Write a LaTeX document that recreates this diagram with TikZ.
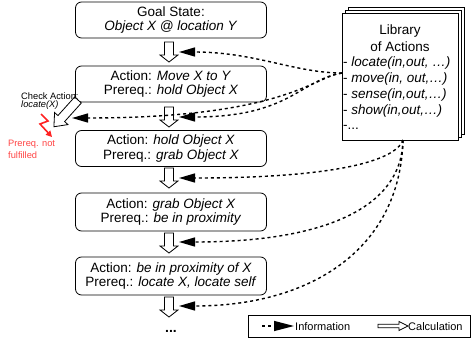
\documentclass[tikz,border=0pt]{standalone}
\usepackage{fontspec}
\setmainfont{Liberation Sans}
\usetikzlibrary{arrows.meta}
\begin{document}
\begin{tikzpicture}[x=1pt,y=-1pt,
  box/.style={draw, rounded corners=6pt, line width=0.8pt, minimum width=191pt, minimum height=36pt, align=center, font=\fontsize{13.5}{14.5}\selectfont, inner sep=0pt},
  info/.style={line width=1.4pt, dash pattern=on 3pt off 3pt, -{Triangle[length=16pt,width=9pt]}},
  calcshape/.style={line width=0.8pt, fill=white, draw=black},
  pics/calcarrow/.style={code={\draw[calcshape] (-4.5,0) -- (4.5,0) -- (4.5,13) -- (9,13) -- (0,20) -- (-9,13) -- (-4.5,13) -- cycle;}},
  libpage/.style={draw, fill=white, line width=0.8pt},
  libtext/.style={font=\fontsize{13.5}{15}\selectfont, inner sep=0pt},
  small/.style={font=\fontsize{9.3}{10}\selectfont, inner sep=0pt, anchor=west},
  legtext/.style={font=\fontsize{11}{12}\selectfont, inner sep=0pt, anchor=west}
]
\definecolor{boltred}{HTML}{FF2222}
\definecolor{txtred}{HTML}{FF4444}
\useasboundingbox (0,0) rectangle (472,343);
% goal/action boxes
\node[box] (goal) at (171,20) {Goal State:\\\textit{Object X @ location Y}};
\node[box] (move) at (171,84) {Action: \textit{Move X to Y}\\Prereq.: \textit{hold Object X}};
\node[box] (hold) at (171,148.5) {Action: \textit{hold Object X}\\Prereq.: \textit{grab Object X}};
\node[box, minimum height=38pt] (grab) at (171,212) {Action: \textit{grab Object X}\\Prereq.: \textit{be in proximity}};
\node[box, minimum height=38pt] (prox) at (171,276) {Action: \textit{be in proximity of X}\\Prereq.: \textit{locate X, locate self}};
\node[font=\fontsize{14}{14}\selectfont\bfseries] (dots) at (171,331) {...};
% calculation arrows
\pic at (169,42) {calcarrow};
\pic at (169,107) {calcarrow};
\pic at (169,168) {calcarrow};
\pic at (169,233) {calcarrow};
\pic at (169,297) {calcarrow};
% check action arrow
\begin{scope}[shift={(78,100)}, rotate=-42]
\draw[calcshape] (-4.5,0) -- (4.5,0) -- (4.5,25) -- (9,25) -- (0,36) -- (-9,25) -- (-4.5,25) -- cycle;
\end{scope}
\node[small] (check) at (21,96) {Check Action:};
\node[small] (loc) at (21,105.5) {\textit{locate(X)}};
\draw[boltred, line width=1.6pt, -{Triangle[length=6pt,width=6pt]}] (41,114) -- (48,121) -- (40,124) -- (52,137);
\node[small, text=txtred] (pnf1) at (8,144) {Prereq. not};
\node[small, text=txtred] (pnf2) at (8,155.5) {fulfilled};
% library
\draw[libpage] (348,7) rectangle (464,134);
\draw[libpage] (345,10) rectangle (461,137);
\node[libpage, anchor=north west, minimum width=116pt, minimum height=127pt, inner sep=0pt] (lib) at (342,13) {};
\node[libtext] (lt1) at (400,31) {Library};
\node[libtext] (lt2) at (400,47) {of Actions};
\node[libtext, anchor=west] (l1) at (343,63) {- \textit{locate(in,out, …)}};
\node[libtext, anchor=west] (l2) at (343,79) {- \textit{move(in, out,…)}};
\node[libtext, anchor=west] (l3) at (343,95) {- \textit{sense(in,out,…)}};
\node[libtext, anchor=west] (l4) at (343,111) {- \textit{show(in,out,…)}};
\node[libtext, anchor=west] (l5) at (343,127) {-...};
% information connectors
\coordinate (J1) at (342,73);
\coordinate (J2) at (403,140);
\coordinate (t0) at (72,118);
\coordinate (t1) at (179,52);
\coordinate (t2) at (179,117);
\coordinate (t3) at (179,178);
\coordinate (t4) at (179,242);
\coordinate (t5) at (179,306);
\draw[info] (J1) .. controls (295,73) and (255,52) .. (t1);
\draw[info] (J1) .. controls (300,80) and (290,117) .. (t2);
\draw[info] (J1) .. controls (315,76) and (285,118) .. (t0);
\draw[info] (J2) .. controls (395,162) and (330,178) .. (t3);
\draw[info] (J2) .. controls (402,205) and (330,242) .. (t4);
\draw[info] (J2) .. controls (400,250) and (310,306) .. (t5);
% legend
\node[draw, line width=0.8pt, anchor=north west, minimum width=222pt, minimum height=22pt, inner sep=0pt] (legend) at (248,315) {};
\coordinate (li0) at (262,326);
\coordinate (li1) at (294,326);
\draw[info, -{Triangle[length=20pt,width=10pt]}] (li0) -- (li1);
\node[legtext] (linfo) at (295,326.5) {Information};
\begin{scope}[shift={(378,326)}]
\draw[calcshape] (0,-1.8) -- (21,-1.8) -- (21,-4.5) -- (30,0) -- (21,4.5) -- (21,1.8) -- (0,1.8) -- cycle;
\end{scope}
\node[legtext] (lcalc) at (408,326.5) {Calculation};
\end{tikzpicture}
\end{document}
